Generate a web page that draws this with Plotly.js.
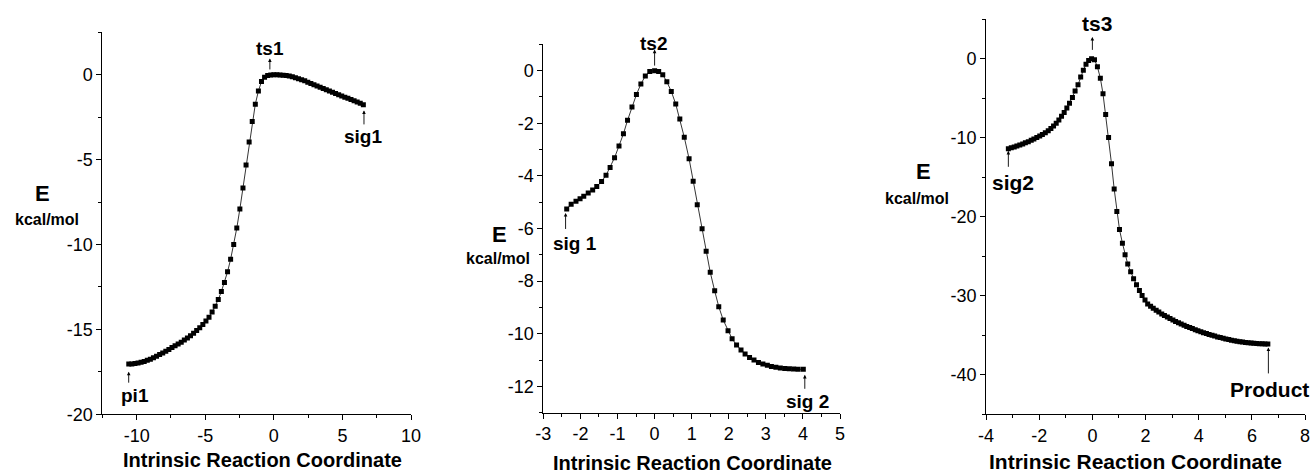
<!DOCTYPE html>
<html>
<head>
<meta charset="utf-8">
<script src="https://cdn.plot.ly/plotly-3.0.1.min.js"></script>
<style>html,body{margin:0;padding:0;background:#fff;}#chart{width:1314px;height:473px;}</style>
</head>
<body>
<div id="chart"></div>
<script>
// Panel 1: pi1 -> ts1 -> sig1
const irc1 = [-10.575,-10.35,-10.125,-9.9,-9.675,-9.45,-9.225,-9.0,-8.775,-8.55,-8.325,-8.1,-7.875,-7.65,-7.425,-7.2,-6.975,-6.75,-6.525,-6.3,-6.075,-5.85,-5.625,-5.4,-5.175,-4.95,-4.725,-4.5,-4.275,-4.05,-3.825,-3.6,-3.375,-3.15,-2.925,-2.7,-2.475,-2.25,-2.025,-1.8,-1.575,-1.35,-1.125,-0.9,-0.675,-0.45,-0.225,0,0.225,0.45,0.675,0.9,1.125,1.35,1.575,1.8,2.025,2.25,2.475,2.7,2.925,3.15,3.375,3.6,3.825,4.05,4.275,4.5,4.725,4.95,5.175,5.4,5.625,5.85,6.075,6.3,6.525];
const e1 = [-17.04,-17.03,-17.01,-16.98,-16.94,-16.89,-16.82,-16.75,-16.67,-16.58,-16.48,-16.39,-16.29,-16.18,-16.07,-15.96,-15.86,-15.75,-15.63,-15.50,-15.37,-15.23,-15.07,-14.90,-14.71,-14.50,-14.28,-13.98,-13.63,-13.24,-12.77,-12.24,-11.61,-10.87,-10.00,-9.03,-7.90,-6.67,-5.31,-3.96,-2.76,-1.73,-0.96,-0.40,-0.15,-0.05,-0.01,0,-0.003,-0.01,-0.03,-0.05,-0.08,-0.12,-0.17,-0.23,-0.29,-0.36,-0.44,-0.51,-0.59,-0.66,-0.74,-0.81,-0.89,-0.96,-1.03,-1.10,-1.18,-1.25,-1.32,-1.39,-1.46,-1.53,-1.60,-1.68,-1.76];

// Panel 2: sig 1 -> ts2 -> sig 2
const irc2 = [-2.37,-2.25,-2.12,-2.01,-1.91,-1.79,-1.67,-1.56,-1.43,-1.31,-1.20,-1.08,-0.96,-0.84,-0.73,-0.61,-0.49,-0.37,-0.25,-0.13,0.00,0.11,0.22,0.33,0.45,0.57,0.68,0.80,0.93,1.04,1.15,1.28,1.39,1.50,1.62,1.73,1.85,1.98,2.09,2.21,2.33,2.44,2.56,2.68,2.80,2.92,3.04,3.15,3.27,3.39,3.51,3.63,3.75,3.87,4.01];
const e2 = [-5.26,-5.08,-4.96,-4.87,-4.77,-4.65,-4.54,-4.40,-4.21,-3.98,-3.68,-3.31,-2.86,-2.40,-1.89,-1.38,-0.91,-0.51,-0.20,-0.03,0.00,-0.03,-0.16,-0.42,-0.79,-1.27,-1.84,-2.53,-3.35,-4.20,-5.10,-6.01,-6.86,-7.66,-8.37,-8.97,-9.48,-9.89,-10.19,-10.43,-10.62,-10.77,-10.90,-11.00,-11.09,-11.15,-11.20,-11.24,-11.27,-11.30,-11.32,-11.33,-11.34,-11.35,-11.35];

// Panel 3: sig2 -> ts3 -> Product
const irc3 = [-3.16,-3.05,-2.94,-2.84,-2.73,-2.62,-2.52,-2.41,-2.30,-2.20,-2.09,-1.98,-1.88,-1.77,-1.66,-1.56,-1.46,-1.36,-1.26,-1.16,-1.06,-0.96,-0.86,-0.75,-0.65,-0.54,-0.44,-0.34,-0.24,-0.14,-0.03,0.08,0.19,0.30,0.40,0.50,0.61,0.72,0.82,0.92,1.02,1.13,1.23,1.33,1.44,1.55,1.66,1.77,1.87,1.98,2.08,2.19,2.29,2.40,2.50,2.61,2.71,2.82,2.92,3.03,3.13,3.24,3.34,3.45,3.55,3.66,3.76,3.87,3.97,4.08,4.18,4.29,4.39,4.50,4.60,4.71,4.81,4.92,5.02,5.13,5.23,5.34,5.44,5.55,5.65,5.76,5.86,5.97,6.07,6.18,6.28,6.39,6.49,6.60];
const e3 = [-11.42,-11.30,-11.18,-11.06,-10.93,-10.80,-10.66,-10.51,-10.35,-10.18,-10.00,-9.80,-9.60,-9.38,-9.14,-8.86,-8.53,-8.17,-7.76,-7.30,-6.83,-6.27,-5.64,-4.93,-4.12,-3.33,-2.35,-1.47,-0.71,-0.25,-0.02,-0.16,-1.05,-2.48,-4.46,-7.08,-9.99,-13.31,-16.51,-19.34,-21.62,-23.35,-24.82,-26.00,-26.97,-27.86,-28.61,-29.33,-29.96,-30.55,-31.06,-31.34,-31.58,-31.84,-32.07,-32.30,-32.50,-32.70,-32.89,-33.08,-33.25,-33.42,-33.58,-33.73,-33.88,-34.02,-34.16,-34.29,-34.42,-34.55,-34.67,-34.79,-34.90,-35.01,-35.11,-35.21,-35.30,-35.39,-35.47,-35.55,-35.62,-35.69,-35.75,-35.81,-35.86,-35.91,-35.95,-35.99,-36.02,-36.05,-36.07,-36.09,-36.10,-36.11];

// Tick values / labels
const xTicks1 = [-10,-5,0,5,10];
const xLabels1 = ["-10","-5","0","5","10"];
const yTicks1 = [-20,-15,-10,-5,0];
const yLabels1 = ["-20","-15","-10","-5","0"];
const xTicks2 = [-3,-2,-1,0,1,2,3,4,5];
const xLabels2 = ["-3","-2","-1","0","1","2","3","4","5"];
const yTicks2 = [-12,-10,-8,-6,-4,-2,0];
const yLabels2 = ["-12","-10","-8","-6","-4","-2","0"];
const xTicks3 = [-4,-2,0,2,4,6,8];
const xLabels3 = ["-4","-2","0","2","4","6","8"];
const yTicks3 = [-40,-30,-20,-10,0];
const yLabels3 = ["-40","-30","-20","-10","0"];

const FONT = 'Arial, "Liberation Sans", Helvetica, sans-serif';

function trace(x, y, xa, ya) {
  return {
    x: x, y: y, xaxis: xa, yaxis: ya, type: 'scatter', mode: 'lines+markers',
    line: {color: '#000', width: 0.8},
    marker: {symbol: 'square', size: 5, color: '#000'},
    hoverinfo: 'skip'
  };
}

function axis(domain, range, tickvals, ticktext, minorDtick, anchor) {
  return {
    domain: domain, range: range, anchor: anchor,
    showline: true, linecolor: '#000', linewidth: 1,
    showgrid: false, zeroline: false,
    ticks: 'outside', ticklen: 5, tickwidth: 1, tickcolor: '#000',
    tickmode: 'array', tickvals: tickvals, ticktext: ticktext,
    tickfont: {family: FONT, size: 18, color: '#000'},
    minor: {ticks: 'outside', ticklen: 3, tickwidth: 1, tickcolor: '#000', dtick: minorDtick, tick0: 0, showgrid: false},
    fixedrange: true
  };
}

const data = [
  trace(irc1, e1, 'x', 'y'),
  trace(irc2, e2, 'x2', 'y2'),
  trace(irc3, e3, 'x3', 'y3')
];

function label(text, x, y, size) {
  return {text: '<b>' + text + '</b>', xref: 'paper', yref: 'paper', x: x, y: y,
          xanchor: 'center', yanchor: 'middle', showarrow: false,
          font: {family: FONT, size: size, color: '#000'}};
}
function arrow(xr, yr, x, y, len) {
  return {text: ' ', xref: xr, yref: yr, x: x, y: y, ax: 0, ay: len, axref: 'pixel', ayref: 'pixel',
          font: {size: 1}, borderpad: 0,
          showarrow: true, arrowhead: 2, arrowsize: 0.8, arrowwidth: 0.9, arrowcolor: '#000', standoff: 0, startstandoff: 0};
}

const annotations = [
  // axis titles
  label('Intrinsic Reaction Coordinate', 0.1998, 0.0275, 20),
  label('Intrinsic Reaction Coordinate', 0.5270, 0.0205, 20),
  label('Intrinsic Reaction Coordinate', 0.8644, 0.0239, 21),
  label('E', 0.0327, 0.5899, 22), label('kcal/mol', 0.0355, 0.5349, 16),
  label('E', 0.3800, 0.5032, 22), label('kcal/mol', 0.3792, 0.4539, 16),
  label('E', 0.7027, 0.6370, 22), label('kcal/mol', 0.6981, 0.5793, 16),
  // point labels
  label('ts1', 0.2055, 0.8979, 19),
  label('sig1', 0.2765, 0.7110, 19),
  label('pi1', 0.1027, 0.1649, 19),
  label('ts2', 0.4972, 0.9085, 19),
  label('sig 1', 0.4376, 0.4856, 19),
  label('sig 2', 0.6147, 0.1507, 19),
  label('ts3', 0.8346, 0.9507, 21),
  label('sig2', 0.7712, 0.6137, 21),
  label('Product', 0.9665, 0.1770, 21),
  // arrows
  arrow('x', 'y', -0.29, 0.96, 12),
  arrow('x', 'y', 6.57, -2.10, 15),
  arrow('x', 'y', -10.58, -17.49, 12),
  arrow('x2', 'y2', 0.0, 0.80, 17),
  arrow('x2', 'y2', -2.40, -5.41, 17),
  arrow('x2', 'y2', 4.05, -11.56, 15),
  arrow('x3', 'y3', 0.0, 2.74, 14),
  arrow('x3', 'y3', -3.16, -11.67, 17),
  arrow('x3', 'y3', 6.62, -36.54, 27)
];

const layout = {
  width: 1314, height: 473,
  margin: {l: 0, r: 0, t: 0, b: 0},
  paper_bgcolor: '#fff', plot_bgcolor: '#fff',
  showlegend: false,
  font: {family: FONT, color: '#000'},
  xaxis:  axis([0.0779, 0.3128], [-12.5, 10], xTicks1, xLabels1, 2.5, 'y'),
  yaxis:  axis([0.1241, 0.9317], [-20, 2.5], yTicks1, yLabels1, 2.5, 'x'),
  xaxis2: axis([0.4135, 0.6393], [-3, 5], xTicks2, xLabels2, 0.5, 'y2'),
  yaxis2: axis([0.1275, 0.9063], [-13, 1], yTicks2, yLabels2, 1, 'x2'),
  xaxis3: axis([0.7504, 0.9932], [-4, 8], xTicks3, xLabels3, 1, 'y3'),
  yaxis3: axis([0.1241, 0.9598], [-45, 5], yTicks3, yLabels3, 5, 'x3'),
  annotations: annotations
};

Plotly.newPlot('chart', data, layout, {displayModeBar: false, staticPlot: true});
</script>
</body>
</html>
